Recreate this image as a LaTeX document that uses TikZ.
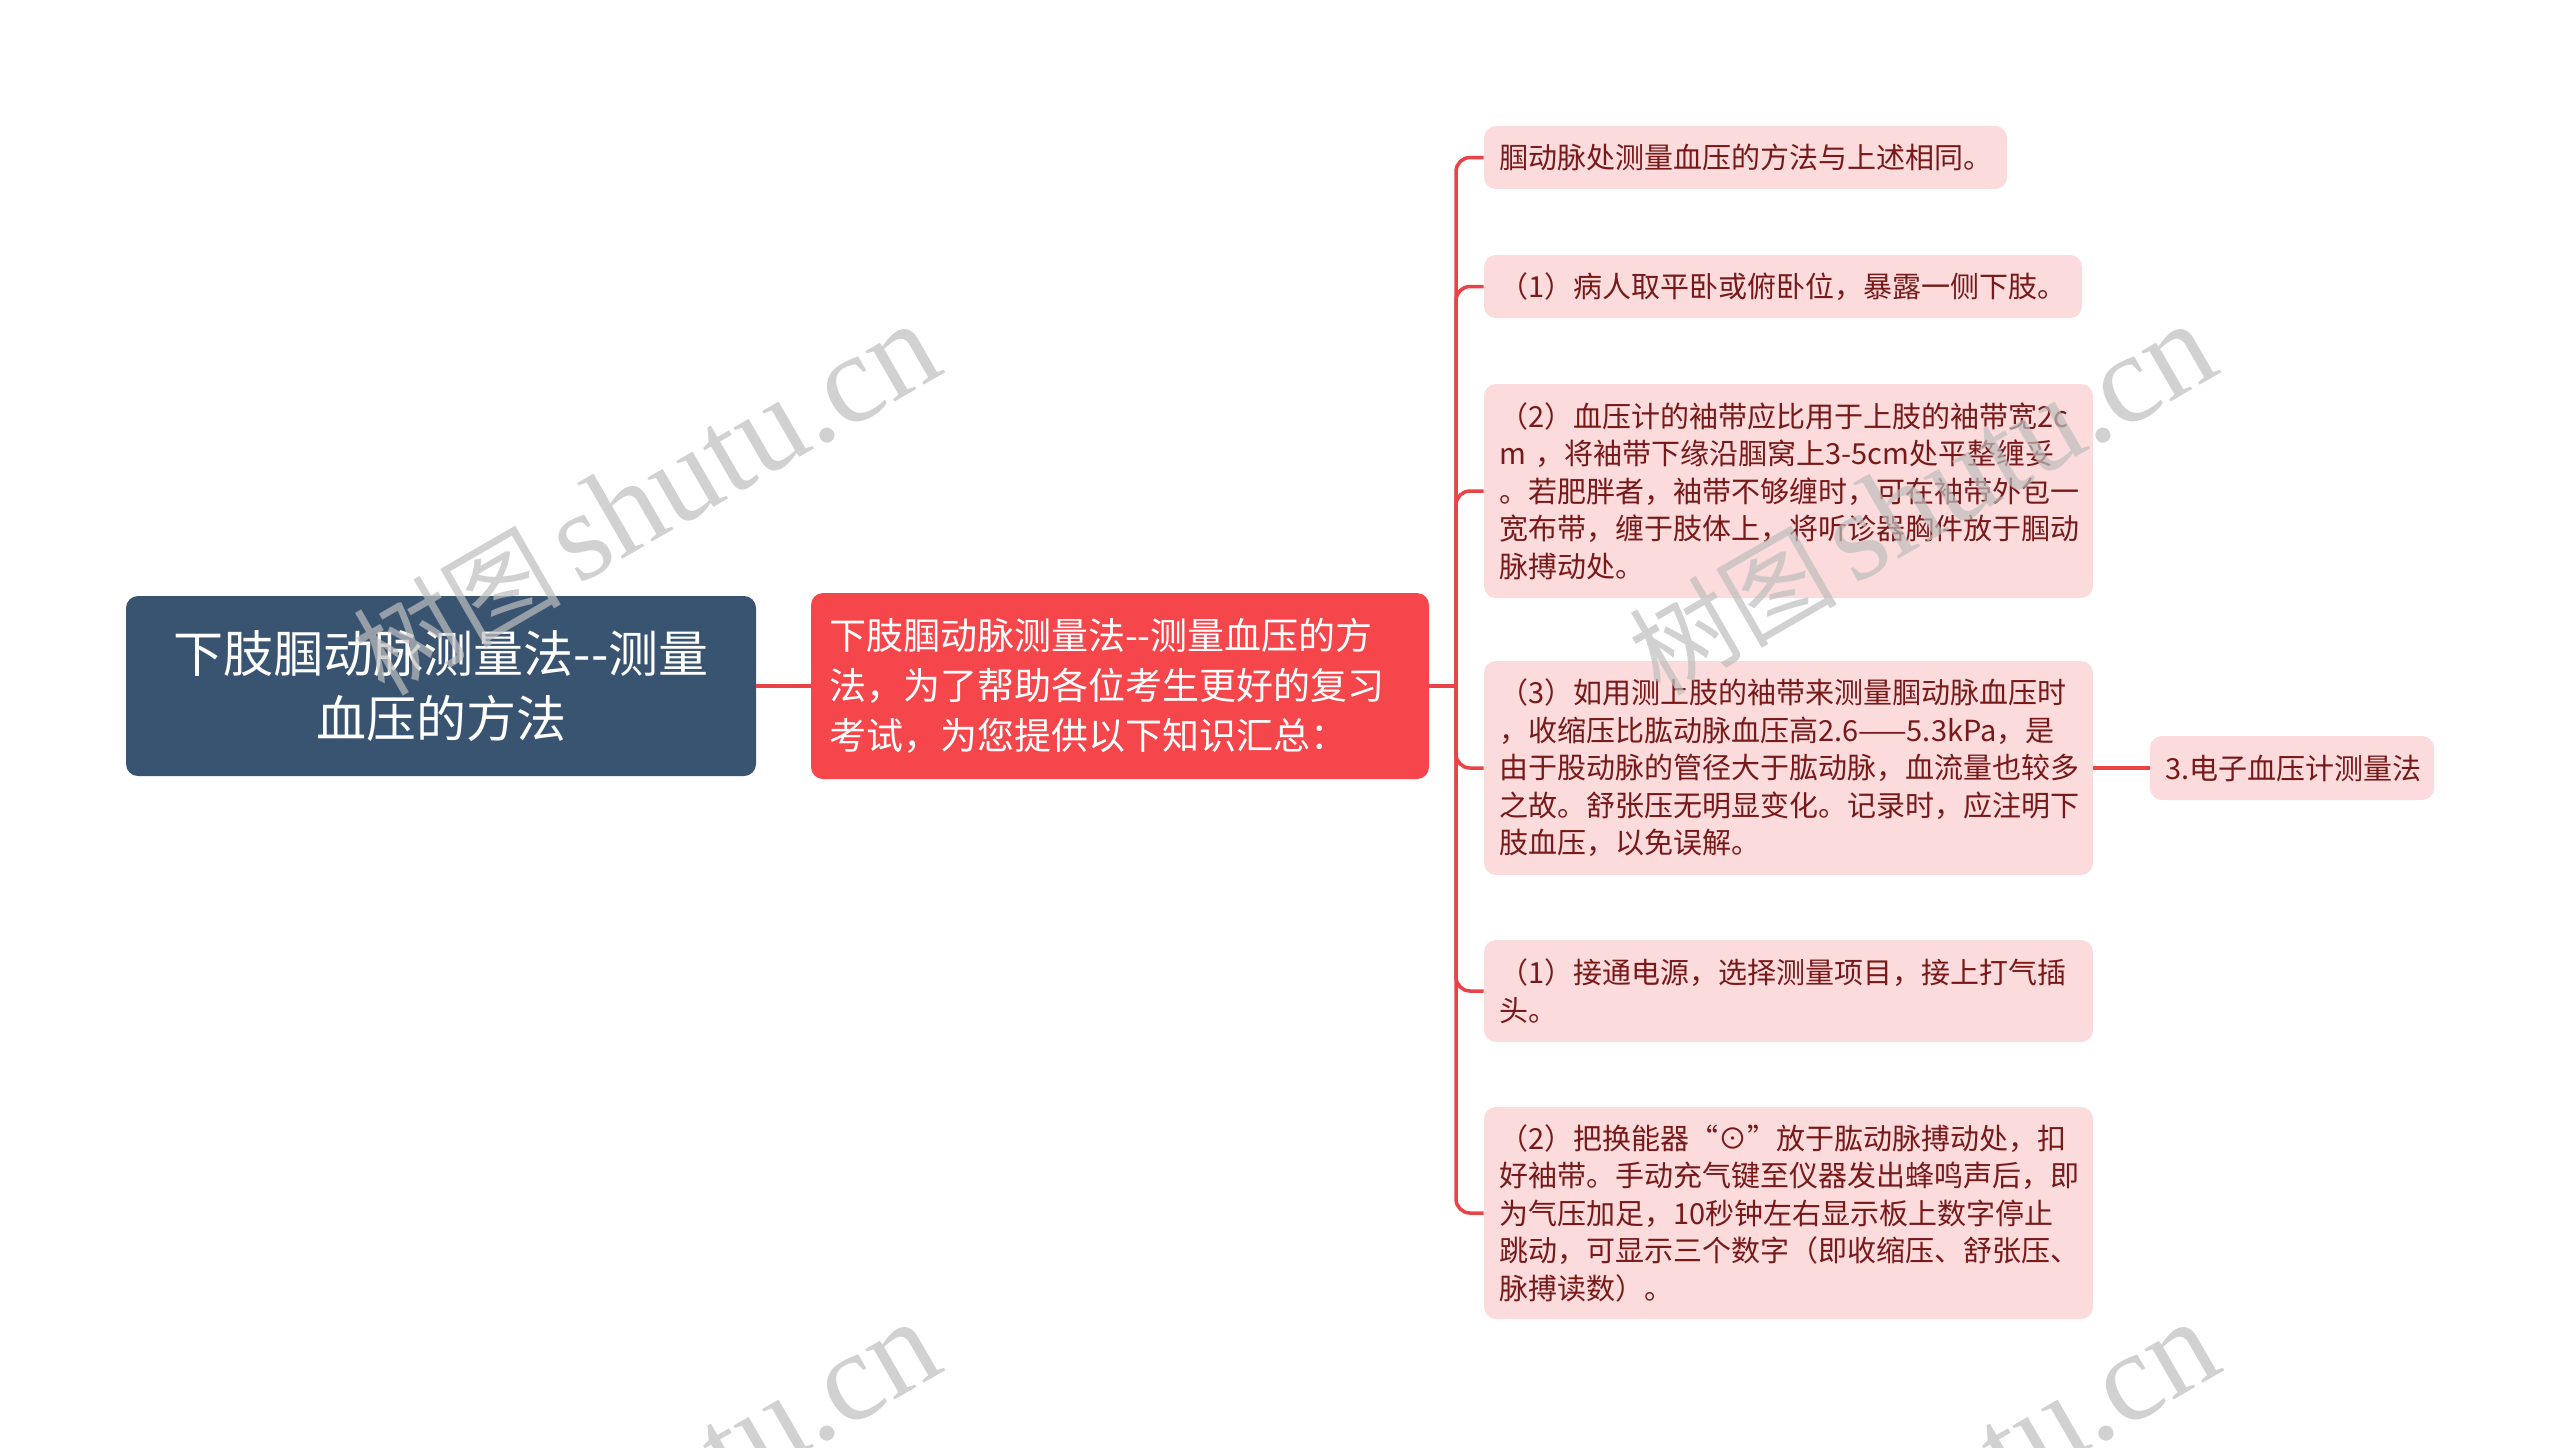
\documentclass[tikz,border=0pt]{standalone}
\usepackage{fontspec}
\newfontfamily\cjk{Noto Sans CJK SC}
\newfontfamily\wmserif{Liberation Serif}
\definecolor{rootblue}{RGB}{57,84,113}
\definecolor{midred}{RGB}{245,71,75}
\definecolor{connred}{RGB}{233,67,72}
\definecolor{leafpink}{RGB}{252,219,220}
\definecolor{leaftext}{RGB}{120,25,25}
\definecolor{wmgray}{RGB}{190,190,190}
\begin{document}
\begin{tikzpicture}[x=0.5pt,y=-0.5pt,
  rootbox/.style={fill=rootblue, rounded corners=6pt, text=white,
    font=\cjk\fontsize{25pt}{32.5pt}\selectfont, align=center,
    minimum width=315pt, minimum height=90pt, inner sep=0pt},
  midbox/.style={fill=midred, rounded corners=6pt, text=white,
    font=\cjk\fontsize{18.5pt}{25pt}\selectfont, align=left,
    text width=291pt, inner xsep=9pt, inner ysep=0pt, minimum height=93pt},
  leafbox/.style={fill=leafpink, rounded corners=6pt, text=leaftext,
    font=\cjk\fontsize{14.5pt}{18.75pt}\selectfont, align=left,
    inner xsep=7.5pt, inner ysep=0pt},
  conn/.style={draw=connred, line width=1.75pt},
  wm/.style={rotate=30, text=wmgray, text opacity=0.7, inner sep=0pt,
    font=\wmserif\fontsize{63.5pt}{70pt}\selectfont}
]
\useasboundingbox (0,0) rectangle (2560,1447);

\node[rootbox] (root) at (441,686) {下肢腘动脉测量法-{}-测量\\血压的方法};
\node[midbox] (mid) at (1120,686) {下肢腘动脉测量法-{}-测量血压的方\\法，为了帮助各位考生更好的复习\\考试，为您提供以下知识汇总：};

\node[leafbox, text width=246.5pt, minimum height=31.5pt] (c1) at (1745.5,157.5)
  {腘动脉处测量血压的方法与上述相同。};
\node[leafbox, text width=284pt, minimum height=31.5pt] (c2) at (1783,286.5)
  {（1）病人取平卧或俯卧位，暴露一侧下肢。};
\node[leafbox, text width=289.5pt, minimum height=107pt] (c3) at (1788.5,491)
  {（2）血压计的袖带应比用于上肢的袖带宽2c\\m ，将袖带下缘沿腘窝上3-5cm处平整缠妥\\。若肥胖者，袖带不够缠时，可在袖带外包一\\宽布带，缠于肢体上，将听诊器胸件放于腘动\\脉搏动处。};
\node[leafbox, text width=289.5pt, minimum height=107pt] (c4) at (1788.5,768)
  {（3）如用测上肢的袖带来测量腘动脉血压时\\，收缩压比肱动脉血压高2.6——5.3kPa，是\\由于股动脉的管径大于肱动脉，血流量也较多\\之故。舒张压无明显变化。记录时，应注明下\\肢血压，以免误解。};
\node[leafbox, text width=289.5pt, minimum height=51pt] (c5) at (1788.5,991)
  {（1）接通电源，选择测量项目，接上打气插\\头。};
\node[leafbox, text width=289.5pt, minimum height=106pt] (c6) at (1788.5,1213)
  {（2）把换能器“⊙”放于肱动脉搏动处，扣\\好袖带。手动充气键至仪器发出蜂鸣声后，即\\为气压加足，10秒钟左右显示板上数字停止\\跳动，可显示三个数字（即收缩压、舒张压、\\脉搏读数）。};
\node[leafbox, text width=127pt, minimum height=32pt] (c7) at (2292,768)
  {3.电子血压计测量法};

\coordinate (j) at (1456,686);
\draw[conn] (root.east) -- (mid.west);
\draw[conn] (mid.east) -- (j);
\foreach \c in {c1,c2,c3,c4,c5,c6}
  \draw[conn, rounded corners=7pt] (j) |- (\c.west);
\draw[conn] (c4.east) -- (c7.west);

\begin{scope}
\clip (0,0) rectangle (2560,1447);
\node[wm, anchor=base east] (wm1) at (948,372) {{\cjk\fontsize{52pt}{60pt}\selectfont 树图}\hspace{8pt}shutu.cn};
\node[wm, anchor=base east] (wm2) at (2224,372) {{\cjk\fontsize{52pt}{60pt}\selectfont 树图}\hspace{8pt}shutu.cn};
\node[wm, anchor=base east] (wm3) at (948,1370) {{\cjk\fontsize{52pt}{60pt}\selectfont 树图}\hspace{8pt}shutu.cn};
\node[wm, anchor=base east] (wm4) at (2227,1370) {{\cjk\fontsize{52pt}{60pt}\selectfont 树图}\hspace{8pt}shutu.cn};
\end{scope}
\end{tikzpicture}
\end{document}
